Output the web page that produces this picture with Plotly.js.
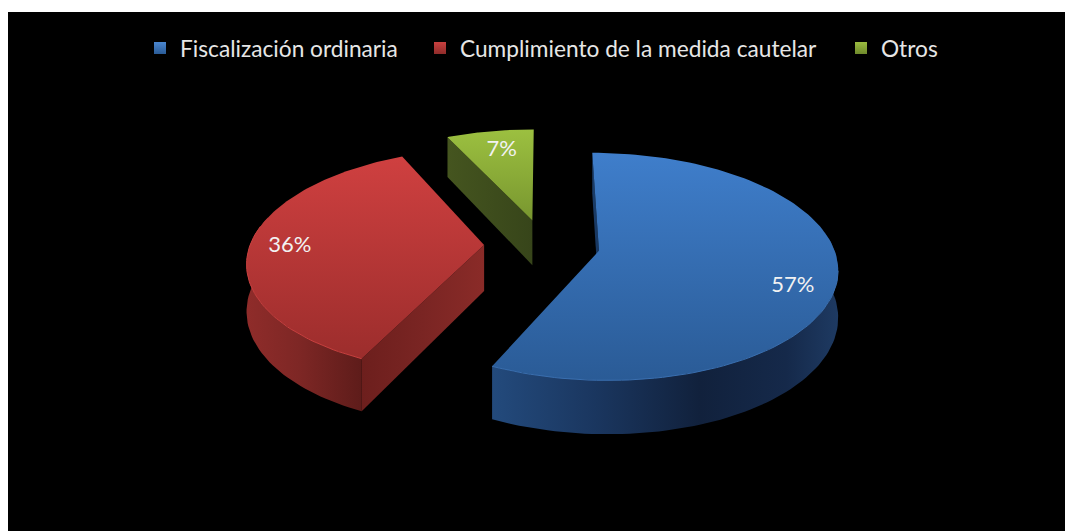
<!DOCTYPE html>
<html><head><meta charset="utf-8">
<script src="https://cdn.plot.ly/plotly-3.0.1.min.js"></script>
<style>html,body{margin:0;padding:0;background:#fff}#c{width:1065px;height:531px}</style>
</head><body><div id="c"></div>
<script>
const categories = ["Fiscalización ordinaria", "Cumplimiento de la medida cautelar", "Otros"];
const shares = [57, 36, 7];
const explode = [0.239, 0.256, 0.235];

const swatch = ["#4a86d0", "#c8403f", "#9bbb3f"];
const swatchDark = ["#2a5b96", "#8f2c2a", "#6f8a2c"];
const topGrad = [["#3f7ecb", "#2a5b96"], ["#cf4040", "#9c2d2c"], ["#9cc040", "#78962f"]];
const rimGrad = [
  [[0, "#234a7c"], [0.3, "#1a365f"], [0.6, "#11213c"], [0.85, "#15294a"], [1, "#1e3a62"]],
  [[0, "#8f2c2a"], [0.45, "#7e2725"], [1, "#5e1c1a"]],
  null
];
const cutGrad = [
  [[0, "#16345c"], [1, "#1c3f6c"]],
  [[0, "#6d1f1d"], [0.5, "#7a2523"], [1, "#8a2b28"]],
  [[0, "#45551f"], [1, "#37451a"]]
];
const rimLine = ["#3a6fb0", "#c8403f", null];

const cx = 544, cy = 245, rx = 234, ry = 110, depth = 46, persp = 0.138, labelR = 0.8;
const labelShift = [[4, 16], [-7, 1], [4, 3]];
const legendTextX = [140, 420, 841];
const rad = d => d * Math.PI / 180;
function proj(X, Y, h) {
  const s = 1 / (1 - persp * Y);
  return [cx + rx * X * s, cy + ry * Y * s + h * depth * s];
}
function range(a, b, n) { const o = []; for (let i = 0; i <= n; i++) o.push(a + (b - a) * i / n); return o; }

const total = shares.reduce((p, c) => p + c, 0);
let acc = 0;
const slices = shares.map((v, i) => {
  const a0 = acc / total * 360; acc += v; const a1 = acc / total * 360;
  const m = rad((a0 + a1) / 2);
  return { i, a0, a1, ox: Math.sin(m) * explode[i], oy: -Math.cos(m) * explode[i], m };
});
const edge = (sl, deg, h) => proj(sl.ox + Math.sin(rad(deg)), sl.oy - Math.cos(rad(deg)), h);
const apex = (sl, h) => proj(sl.ox, sl.oy, h);

function poly(pts, grad, orient) {
  return {
    type: "scatter", mode: "lines", x: pts.map(p => p[0]), y: pts.map(p => p[1]),
    fill: "toself", line: { width: 0, color: "rgba(0,0,0,0)" },
    fillgradient: { type: orient, colorscale: grad },
    showlegend: false, hoverinfo: "skip"
  };
}
const traces = [];
[2, 1, 0].forEach(i => {
  const sl = slices[i];
  if (i === 0) {
    const arc = range(80, sl.a1, 80);
    traces.push(poly(arc.map(d => edge(sl, d, 0)).concat(arc.slice().reverse().map(d => edge(sl, d, 1))), rimGrad[0], "horizontal"));
    traces.push(poly([apex(sl, 0), edge(sl, sl.a0, 0), edge(sl, sl.a0, 1), apex(sl, 1)], cutGrad[0], "vertical"));
  }
  if (i === 1) {
    const arc = range(sl.a0, 285, 50);
    traces.push(poly(arc.map(d => edge(sl, d, 0)).concat(arc.slice().reverse().map(d => edge(sl, d, 1))), rimGrad[1], "horizontal"));
    traces.push(poly([apex(sl, 0), edge(sl, sl.a0, 0), edge(sl, sl.a0, 1), apex(sl, 1)], cutGrad[1], "horizontal"));
  }
  if (i === 2) {
    traces.push(poly([apex(sl, 0), edge(sl, sl.a0, 0), edge(sl, sl.a0, 1), apex(sl, 1)], cutGrad[2], "horizontal"));
  }
  const arc = range(sl.a0, sl.a1, 120);
  const pts = [apex(sl, 0)].concat(arc.map(d => edge(sl, d, 0)));
  traces.push(poly(pts, [[0, topGrad[i][1]], [1, topGrad[i][0]]], "vertical"));
  if (rimLine[i]) {
    const near = i === 0 ? range(100, sl.a1, 60) : range(sl.a0, 280, 50);
    const np = near.map(d => edge(sl, d, 0));
    traces.push({ type: "scatter", mode: "lines", x: np.map(p => p[0]), y: np.map(p => p[1]),
      line: { width: 1, color: rimLine[i] }, showlegend: false, hoverinfo: "skip" });
  }
});
const lab = slices.map((sl, i) => {
  const p = proj(sl.ox + Math.sin(sl.m) * labelR, sl.oy - Math.cos(sl.m) * labelR, 0);
  return [p[0] + labelShift[i][0], p[1] + labelShift[i][1]];
});
traces.push({
  type: "scatter", mode: "text", x: lab.map(p => p[0]), y: lab.map(p => p[1]),
  text: shares.map(v => v + "%"), textposition: "middle center",
  textfont: { family: "Lato, sans-serif", size: 22, color: "#f2f2f2" },
  showlegend: false, hoverinfo: "skip"
});
const legendKeys = ["legend", "legend2", "legend3"];
categories.forEach((c, i) => traces.push({
  type: "scatter", mode: "markers", name: c, x: [null], y: [null], legend: i === 0 ? "legend" : "legend" + (i + 1),
  marker: { symbol: "square", size: 12, color: swatch[i], gradient: { type: "vertical", color: swatchDark[i] } }
}));

const layout = {
  width: 1065, height: 531, margin: { l: 8, r: 0, t: 12, b: 0 },
  paper_bgcolor: "#ffffff", plot_bgcolor: "#000000",
  xaxis: { range: [8, 1065], visible: false, fixedrange: true },
  yaxis: { range: [531, 12], visible: false, fixedrange: true },
  showlegend: true
};
legendKeys.forEach((k, i) => {
  layout[k] = {
    orientation: "h", x: (legendTextX[i] - 8) / 1057, xanchor: "left", y: 0.9715, yanchor: "top",
    bgcolor: "rgba(0,0,0,0)", font: { family: "Lato, sans-serif", size: 22.7, color: "#e6e6e6" },
    itemwidth: 30
  };
});
Plotly.newPlot("c", traces, layout, { staticPlot: true, displayModeBar: false });
</script></body></html>
